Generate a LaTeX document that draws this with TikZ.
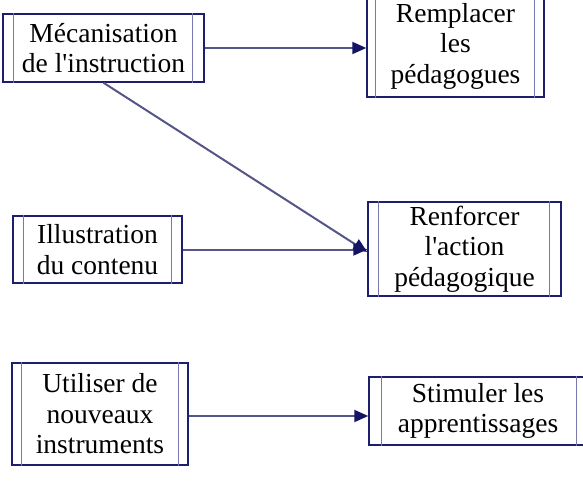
\documentclass[tikz,border=0pt]{standalone}
\usepackage{fontspec}
\setmainfont{Liberation Serif}[Ligatures=TeXOff]
\usetikzlibrary{arrows.meta}
\definecolor{boxc}{RGB}{30,30,110}
\definecolor{innerc}{RGB}{120,120,175}
\definecolor{linec}{RGB}{85,85,135}
\definecolor{headc}{RGB}{20,20,100}
\begin{document}
\begin{tikzpicture}[x=1pt,y=-1pt,
  box/.style={draw=boxc, line width=1.5pt, inner sep=0pt, align=center,
    font=\fontsize{27.5}{30.5}\selectfont},
  innerline/.style={draw=innerc, line width=1.4pt},
  conn/.style={draw=linec, line width=2pt,
    -{Triangle[length=14pt,width=12pt,fill=headc,color=headc]}}]
\useasboundingbox (0,0) rectangle (583,481);
\node[box, minimum width=201pt, minimum height=68pt] (m) at (103.5,48) {Mécanisation\\de l'instruction};
\node[box, minimum width=177pt, minimum height=102pt] (r) at (455.5,46) {Remplacer\\les\\pédagogues};
\node[box, minimum width=169pt, minimum height=67pt] (i) at (97.5,249.5) {Illustration\\du contenu};
\node[box, minimum width=193pt, minimum height=94pt] (f) at (464.5,249) {Renforcer\\l'action\\pédagogique};
\node[box, minimum width=176pt, minimum height=102pt] (u) at (100,414) {Utiliser de\\nouveaux\\instruments};
\node[box, minimum width=218pt, minimum height=68pt] (s) at (478,411) {Stimuler les\\apprentissages};
\foreach \n/\a/\b in {m/11/12, r/9/10, i/11/11, f/11/12, u/10/10, s/13/11}{
  \draw[innerline] ([xshift=\a pt]\n.north west) -- ([xshift=\a pt]\n.south west);
  \draw[innerline] ([xshift=-\b pt]\n.north east) -- ([xshift=-\b pt]\n.south east);
}
\coordinate (ft) at ([yshift=-3pt]f.west);
\draw[conn] (m.east) -- (m.east -| r.west);
\draw[conn] (m.south) -- (ft);
\draw[conn] (i.east) -- (i.east -| f.west);
\draw[conn] ([yshift=-2pt]u.east) -- ([yshift=-2pt]u.east -| s.west);
\end{tikzpicture}
\end{document}
